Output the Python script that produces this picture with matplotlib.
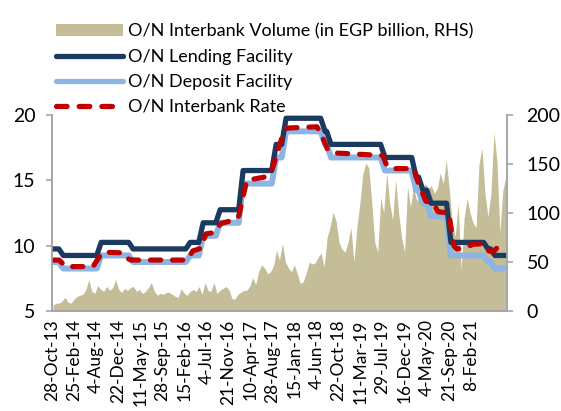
import numpy as np
import matplotlib.pyplot as plt
from matplotlib.patches import Patch
from matplotlib.lines import Line2D

plt.rcParams['font.family'] = ['Lato', 'DejaVu Sans']

# =============================================================================
# DATA  (x axis is the category position, one unit = one date label)
# =============================================================================
tick_labels = ['28-Oct-13', '25-Feb-14', '4-Aug-14', '22-Dec-14', '11-May-15',
               '28-Sep-15', '15-Feb-16', '4-Jul-16', '21-Nov-16', '10-Apr-17',
               '28-Aug-17', '15-Jan-18', '4-Jun-18', '22-Oct-18', '11-Mar-19',
               '29-Jul-19', '16-Dec-19', '4-May-20', '21-Sep-20', '8-Feb-21']
x_end = 20.65

# corridor: where the rates change and the levels (start level first)
chg_pos = [0.41, 2.13, 3.58, 6.17, 6.76, 7.53, 8.57, 10.07, 10.52, 12.29, 12.56,
           15.01, 16.42, 16.73, 17.10, 18.0, 19.68, 20.0]
lending = [9.75, 9.25, 10.25, 9.75, 10.25, 11.75, 12.75, 15.75, 17.75, 19.75, 18.75,
           17.75, 16.75, 15.25, 14.25, 13.25, 10.25, 9.75, 9.25]
deposit = [8.75, 8.25, 9.25, 8.75, 9.25, 10.75, 11.75, 14.75, 16.75, 18.75, 17.75,
           16.75, 15.75, 14.25, 13.25, 12.25, 9.25, 8.75, 8.25]

# O/N interbank rate, read at a few positions
ib_pos = [0.05, 0.32, 0.63, 1.86, 2.09, 2.31, 3.22, 3.45, 3.58, 6.12, 6.39, 6.76,
          6.98, 7.35, 7.66, 8.34, 8.48, 8.66, 8.84, 9.80, 10.02, 10.25, 10.48, 10.66,
          12.02, 12.2, 12.52, 12.79, 15.01, 15.19, 15.46, 16.42, 16.6, 16.73, 16.96,
          17.28, 17.51, 18.0, 18.23, 18.37, 18.78, 19.09, 19.59, 19.82, 20.0, 20.23, 20.6]
ib_rate = [8.9, 8.9, 8.4, 8.4, 9.0, 9.5, 9.45, 9.0, 8.9, 8.9, 9.6, 9.8,
           10.9, 11.0, 11.7, 12.0, 12.3, 13.7, 15.0, 15.3, 16.0, 17.3, 18.5, 19.0,
           19.1, 18.6, 17.3, 17.1, 16.9, 16.1, 15.9, 15.9, 14.9, 14.4, 13.4,
           13.3, 12.6, 12.5, 10.0, 9.75, 9.85, 10.1, 10.15, 9.6, 9.5, 9.9, 10.0]

# O/N interbank volume, EGP billion (evenly spaced observations)
volume = [6, 8, 8, 10, 14, 9, 8, 12, 15, 16, 17, 22, 32, 20, 18, 26, 22, 20, 25, 21,
          24, 32, 22, 19, 23, 21, 24, 25, 20, 22, 18, 20, 24, 29, 20, 16, 18, 17, 19, 19,
          17, 15, 14, 23, 18, 16, 20, 22, 20, 25, 17, 29, 21, 20, 29, 18, 21, 23, 25, 22,
          13, 12, 17, 19, 21, 21, 25, 34, 27, 40, 47, 44, 38, 40, 46, 62, 52, 69, 50, 44,
          40, 47, 38, 28, 30, 39, 50, 48, 49, 55, 59, 45, 75, 86, 101, 92, 70, 63, 60, 70,
          85, 50, 86, 110, 140, 151, 146, 110, 70, 60, 116, 100, 141, 110, 93, 134, 100, 75, 60, 127,
          106, 127, 113, 115, 123, 130, 125, 128, 120, 125, 141, 130, 154, 125, 90, 76, 110, 42, 95, 115,
          100, 90, 85, 150, 166, 120, 96, 120, 182, 154, 80, 123, 137]


def steps(levels):
    xs, ys = [0], [levels[0]]
    for p, a, b in zip(chg_pos, levels[:-1], levels[1:]):
        xs += [p - 0.1, p + 0.1]
        ys += [a, b]
    xs.append(x_end)
    ys.append(levels[-1])
    return xs, ys


# =============================================================================
# VISUALIZATION
# =============================================================================
navy = '#1B3A5F'
light = '#8DB4E2'
red = '#C00000'
tan = '#C4BD97'
grey = '#A6A6A6'
dash = (2.0, 2.3)

fig = plt.figure(figsize=(5.61, 4.11), dpi=100)
ax = fig.add_axes([0.0927, 0.2433, 0.8113, 0.4769])
ax2 = ax.twinx()

vol_x = np.linspace(0.05, 20.59, len(volume))
ax2.fill_between(vol_x, volume, 0, color=tan, lw=0)
ax2.set_ylim(0, 200)
ax2.set_yticks([0, 50, 100, 150, 200])

xs, ys = steps(deposit)
ax.plot(xs, ys, color=light, lw=4.3, solid_capstyle='round', solid_joinstyle='round')
xs, ys = steps(lending)
ax.plot(xs, ys, color=navy, lw=3.8, solid_capstyle='round', solid_joinstyle='round')
ax.plot(ib_pos, ib_rate, color=red, lw=3.7, dashes=dash, dash_capstyle='round')

ax.set_zorder(ax2.get_zorder() + 1)
ax.patch.set_visible(False)

ax.set_xlim(0, x_end)
ax.set_ylim(5, 20)
ax.set_yticks([5, 10, 15, 20])
ax.set_xticks(range(len(tick_labels)))
ax.set_xticklabels(tick_labels, rotation=90)

for a in (ax, ax2):
    for s in a.spines.values():
        s.set_color(grey)
        s.set_linewidth(1.2)
    a.spines['top'].set_visible(False)
    a.tick_params(axis='y', colors=grey, labelcolor='black', labelsize=14,
                  length=4, width=1.2)
    a.tick_params(axis='x', length=0, labelsize=12.5, pad=6)
ax.tick_params(axis='y', pad=8)
ax2.tick_params(axis='y', pad=10)

handles = [Patch(facecolor=tan, edgecolor='none'),
           Line2D([], [], color=navy, lw=3.8, solid_capstyle='round'),
           Line2D([], [], color=light, lw=3.8, solid_capstyle='round'),
           Line2D([], [], color=red, lw=3.8, dashes=dash, dash_capstyle='round')]
labels = ['O/N Interbank Volume (in EGP billion, RHS)', 'O/N Lending Facility',
          'O/N Deposit Facility', 'O/N Interbank Rate']
fig.legend(handles, labels, loc='upper left', bbox_to_anchor=(0.084, 0.965),
           frameon=False, fontsize=13, handlelength=3.7, handleheight=0.6,
           handletextpad=0.3, labelspacing=0.5, borderpad=0)

fig.savefig('out.png', dpi=100)
